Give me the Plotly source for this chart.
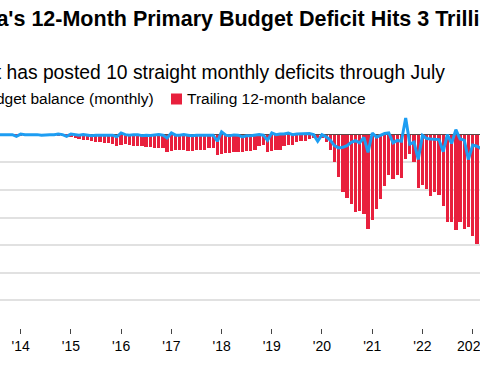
import datetime as dt
import pandas as pd
import plotly.graph_objects as go

# ---------------- data (trillion pesos) ----------------
start_month = "2013-07-01"

monthly_balance = (
    [0.0, 0.0, -0.005, 0.0, 0.0, -0.03]                                                   # 2013 Jul-Dec
    + [0.01, 0.0, 0.0, 0.005, 0.0, -0.01, 0.0, 0.0, 0.0, 0.01, 0.0, -0.03]                 # 2014
    + [0.01, -0.005, -0.01, 0.0, -0.005, -0.02, -0.01, -0.01, -0.01, -0.01, -0.01, -0.04]  # 2015
    + [0.03, 0.0, -0.01, 0.0, 0.0, -0.02, -0.01, -0.015, -0.01, 0.0, -0.01, -0.06]         # 2016
    + [0.03, -0.01, -0.01, 0.0, -0.01, -0.02, -0.01, -0.01, -0.01, 0.0, -0.01, -0.12]      # 2017
    + [0.05, -0.01, -0.02, -0.005, -0.01, -0.04, -0.02, -0.02, -0.01, 0.0, -0.01, -0.105]  # 2018
    + [0.03, 0.0, 0.01, 0.01, 0.03, 0.0, 0.01, 0.01, 0.01, 0.02, 0.0, -0.12]               # 2019
    + [0.0, -0.04, -0.1, -0.2, -0.24, -0.23, -0.2, -0.14, -0.11, -0.15, -0.05, -0.32]      # 2020
    + [0.03, -0.045, -0.015, 0.02, 0.03, -0.15, -0.105, -0.12, 0.30, -0.17, -0.135, -0.45] # 2021
    + [-0.015, -0.07, -0.08, -0.08, -0.09, -0.31, 0.0, -0.16, 0.09, -0.08, -0.1, -0.45]    # 2022
    + [-0.19, -0.21, -0.25]                                                                # 2023 Jan-Mar
)

trailing_balance = (
    [-0.005] * 6                                                                           # 2013 Jul-Dec
    + [-0.01, -0.01, -0.01, -0.01, -0.012, -0.015, -0.015, -0.015, -0.015, -0.015, -0.015, -0.02]
    + [-0.05, -0.07, -0.08, -0.09, -0.1, -0.12, -0.13, -0.14, -0.15, -0.16, -0.17, -0.21]
    + [-0.18, -0.17, -0.19, -0.2, -0.2, -0.21, -0.22, -0.23, -0.24, -0.25, -0.25, -0.32]
    + [-0.29, -0.28, -0.28, -0.28, -0.29, -0.29, -0.28, -0.28, -0.27, -0.25, -0.25, -0.37]
    + [-0.35, -0.34, -0.33, -0.32, -0.32, -0.32, -0.30, -0.29, -0.28, -0.2, -0.18, -0.31]
    + [-0.29, -0.28, -0.27, -0.2, -0.19, -0.18, -0.14, -0.12, -0.11, -0.08, -0.07, -0.07]
    + [-0.07, -0.14, -0.28, -0.5, -0.77, -1.04, -1.15, -1.25, -1.4, -1.38, -1.43, -1.71]
    + [-1.55, -1.34, -1.17, -0.93, -0.73, -0.8, -0.73, -0.79, -0.44, -0.35, -0.5, -0.97]
    + [-0.92, -0.99, -1.11, -1.04, -1.1, -1.3, -1.59, -1.59, -1.72, -1.59, -1.71, -1.68]
    + [-1.83, -1.98]                                                                       # 2023 Jan-Feb
)

months = pd.date_range(start_month, periods=len(monthly_balance), freq="MS")

year_ticks = [f"{y}-01-01" for y in range(2014, 2024)]
year_labels = ["'14", "'15", "'16", "'17", "'18", "'19", "'20", "'21", "'22", "2023"]
y_grid = [0, -0.5, -1.0, -1.5, -2.0, -2.5, -3.0]

title_text = "Argentina's 12-Month Primary Budget Deficit Hits 3 Trillion Pesos"
subtitle_text = "Government has posted 10 straight monthly deficits through July"
legend_line_text = "Primary budget balance (monthly)"
legend_bar_text = "Trailing 12-month balance"

# ---------------- style ----------------
W, H = 480, 377
M_TOP, M_BOT = 107, 49
PLOT_H = H - M_TOP - M_BOT
RED = "#e8203d"
BLUE = "#1d9df2"
FONT = "Liberation Sans, Arial, Helvetica, sans-serif"

# x-range chosen so Jan 2014 falls at px 20.7 with ~50.2 px per year
px_per_year = 50.22
x0_px = 20.7
base = dt.datetime(2014, 1, 1)
day = 365.25 / px_per_year
x_start = base - dt.timedelta(days=x0_px * day)
x_end = base + dt.timedelta(days=(W - x0_px) * day)


def py(p):  # pixel-y -> paper-y
    return (H - M_BOT - p) / PLOT_H


def px(p):  # pixel-x -> paper-x
    return p / W


fig = go.Figure()
fig.add_trace(go.Bar(
    x=months[:len(trailing_balance)], y=trailing_balance, name=legend_bar_text,
    marker=dict(color=RED, line=dict(width=0)),
    width=24 * 24 * 3600 * 1000,
))
fig.add_trace(go.Scatter(
    x=months, y=monthly_balance, name=legend_line_text, mode="lines",
    line=dict(color=BLUE, width=3),
))

annotations = [
    dict(text=f"<b>{title_text}</b>", x=0, xshift=-94, y=py(18.5), xanchor="left", yanchor="middle",
         font=dict(size=21.5, color="#000000", family=FONT)),
    dict(text=subtitle_text, x=0, xshift=-107, y=py(72.5), xanchor="left", yanchor="middle",
         font=dict(size=19.3, color="#000000", family=FONT)),
    dict(text=legend_line_text, x=0, xshift=-81, y=py(99), xanchor="left", yanchor="middle",
         font=dict(size=15.5, color="#000000", family=FONT)),
    dict(text=legend_bar_text, x=px(185), y=py(99), xanchor="left", yanchor="middle",
         font=dict(size=15.5, color="#000000", family=FONT)),
]
for a in annotations:
    a.update(xref="paper", yref="paper", showarrow=False)

shapes = [
    dict(type="rect", xref="paper", yref="paper", x0=px(171), x1=px(182), y0=py(104.5), y1=py(93.5),
         fillcolor=RED, line=dict(width=0)),
    dict(type="line", xref="paper", yref="paper", x0=px(-103), x1=px(-88), y0=py(99), y1=py(99),
         line=dict(color=BLUE, width=3)),
]

fig.update_layout(
    width=W, height=H,
    margin=dict(l=0, r=0, t=M_TOP, b=M_BOT, pad=0, autoexpand=False),
    paper_bgcolor="white", plot_bgcolor="white",
    showlegend=False, bargap=0,
    annotations=annotations, shapes=shapes,
    font=dict(family=FONT, color="#000000"),
    xaxis=dict(
        type="date", range=[x_start, x_end], automargin=False,
        tickvals=year_ticks, ticktext=year_labels,
        ticks="outside", ticklen=5, tickwidth=1, tickcolor="#444444",
        showgrid=False, showline=False, zeroline=False,
        ticklabeloverflow="allow",
        tickfont=dict(size=14, color="#000000", family=FONT),
    ),
    yaxis=dict(
        range=[-3.5, 0.5], tickvals=y_grid, showticklabels=False, side="right", automargin=False,
        showgrid=True, gridcolor="#e1e1e1", gridwidth=1.5,
        zeroline=True, zerolinecolor="#5a4a4a", zerolinewidth=1,
        showline=False, ticks="",
    ),
)

fig.write_html(
    "out.html",
    config={"displayModeBar": False},
    post_script="document.body.style.margin='0px';document.body.style.overflow='hidden';",
)
